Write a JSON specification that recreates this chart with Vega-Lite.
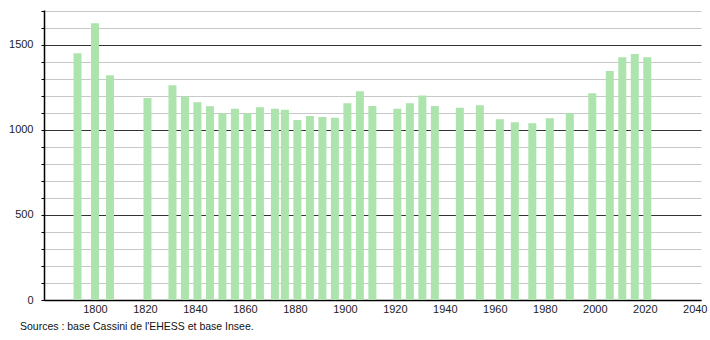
{
  "$schema": "https://vega.github.io/schema/vega-lite/v6.json",
  "width": 657,
  "height": 290,
  "autosize": "none",
  "padding": {"left": 44, "top": 10, "right": 9, "bottom": 40},
  "background": "white",
  "config": {"view": {"stroke": null}, "font": "Liberation Sans"},
  "title": {
    "text": "Sources : base Cassini de l'EHESS et base Insee.",
    "orient": "bottom",
    "anchor": "start",
    "frame": "group",
    "dx": -24,
    "offset": 8,
    "fontSize": 10.5,
    "fontWeight": "normal",
    "color": "#111",
    "font": "Liberation Sans"
  },
  "data": {
    "values": [
      {"annee": 1793, "population": 1451},
      {"annee": 1800, "population": 1627},
      {"annee": 1806, "population": 1322},
      {"annee": 1821, "population": 1188},
      {"annee": 1831, "population": 1263},
      {"annee": 1836, "population": 1196},
      {"annee": 1841, "population": 1163},
      {"annee": 1846, "population": 1139},
      {"annee": 1851, "population": 1098},
      {"annee": 1856, "population": 1124},
      {"annee": 1861, "population": 1098},
      {"annee": 1866, "population": 1133},
      {"annee": 1872, "population": 1124},
      {"annee": 1876, "population": 1118},
      {"annee": 1881, "population": 1059},
      {"annee": 1886, "population": 1082},
      {"annee": 1891, "population": 1076},
      {"annee": 1896, "population": 1071},
      {"annee": 1901, "population": 1157},
      {"annee": 1906, "population": 1227},
      {"annee": 1911, "population": 1141},
      {"annee": 1921, "population": 1124},
      {"annee": 1926, "population": 1157},
      {"annee": 1931, "population": 1202},
      {"annee": 1936, "population": 1141},
      {"annee": 1946, "population": 1131},
      {"annee": 1954, "population": 1145},
      {"annee": 1962, "population": 1063},
      {"annee": 1968, "population": 1045},
      {"annee": 1975, "population": 1039},
      {"annee": 1982, "population": 1069},
      {"annee": 1990, "population": 1098},
      {"annee": 1999, "population": 1216},
      {"annee": 2006, "population": 1347},
      {"annee": 2011, "population": 1427},
      {"annee": 2016, "population": 1447},
      {"annee": 2021, "population": 1427}
    ]
  },
  "mark": {"type": "bar", "width": 8, "color": "#ade3ad", "opacity": 1},
  "encoding": {
    "x": {
      "field": "annee",
      "type": "quantitative",
      "scale": {"domain": [1779.6, 2042.5], "nice": false, "zero": false, "padding": 0},
      "axis": {
        "title": null,
        "values": [1800, 1820, 1840, 1860, 1880, 1900, 1920, 1940, 1960, 1980, 2000, 2020, 2040],
        "format": "d",
        "grid": false,
        "ticks": false,
        "domainColor": "#000",
        "domainWidth": 1.5,
        "labelFontSize": 11,
        "labelColor": "#222",
        "labelPadding": 3,
        "labelFont": "Liberation Sans"
      }
    },
    "y": {
      "field": "population",
      "type": "quantitative",
      "scale": {"domain": [0, 1705], "nice": false},
      "axis": {
        "title": null,
        "values": [0, 100, 200, 300, 400, 500, 600, 700, 800, 900, 1000, 1100, 1200, 1300, 1400, 1500, 1600, 1700],
        "labelExpr": "datum.value % 500 === 0 ? datum.value : ''",
        "grid": true,
        "gridColor": {"condition": {"test": "datum.value % 500 === 0", "value": "#333333"}, "value": "#c8c8c8"},
        "gridWidth": 1,
        "tickSize": 3,
        "tickColor": "#000",
        "domainColor": "#000",
        "domainWidth": 1.5,
        "labelFontSize": 11,
        "labelColor": "#222",
        "labelPadding": 8,
        "labelFont": "Liberation Sans"
      }
    }
  }
}
